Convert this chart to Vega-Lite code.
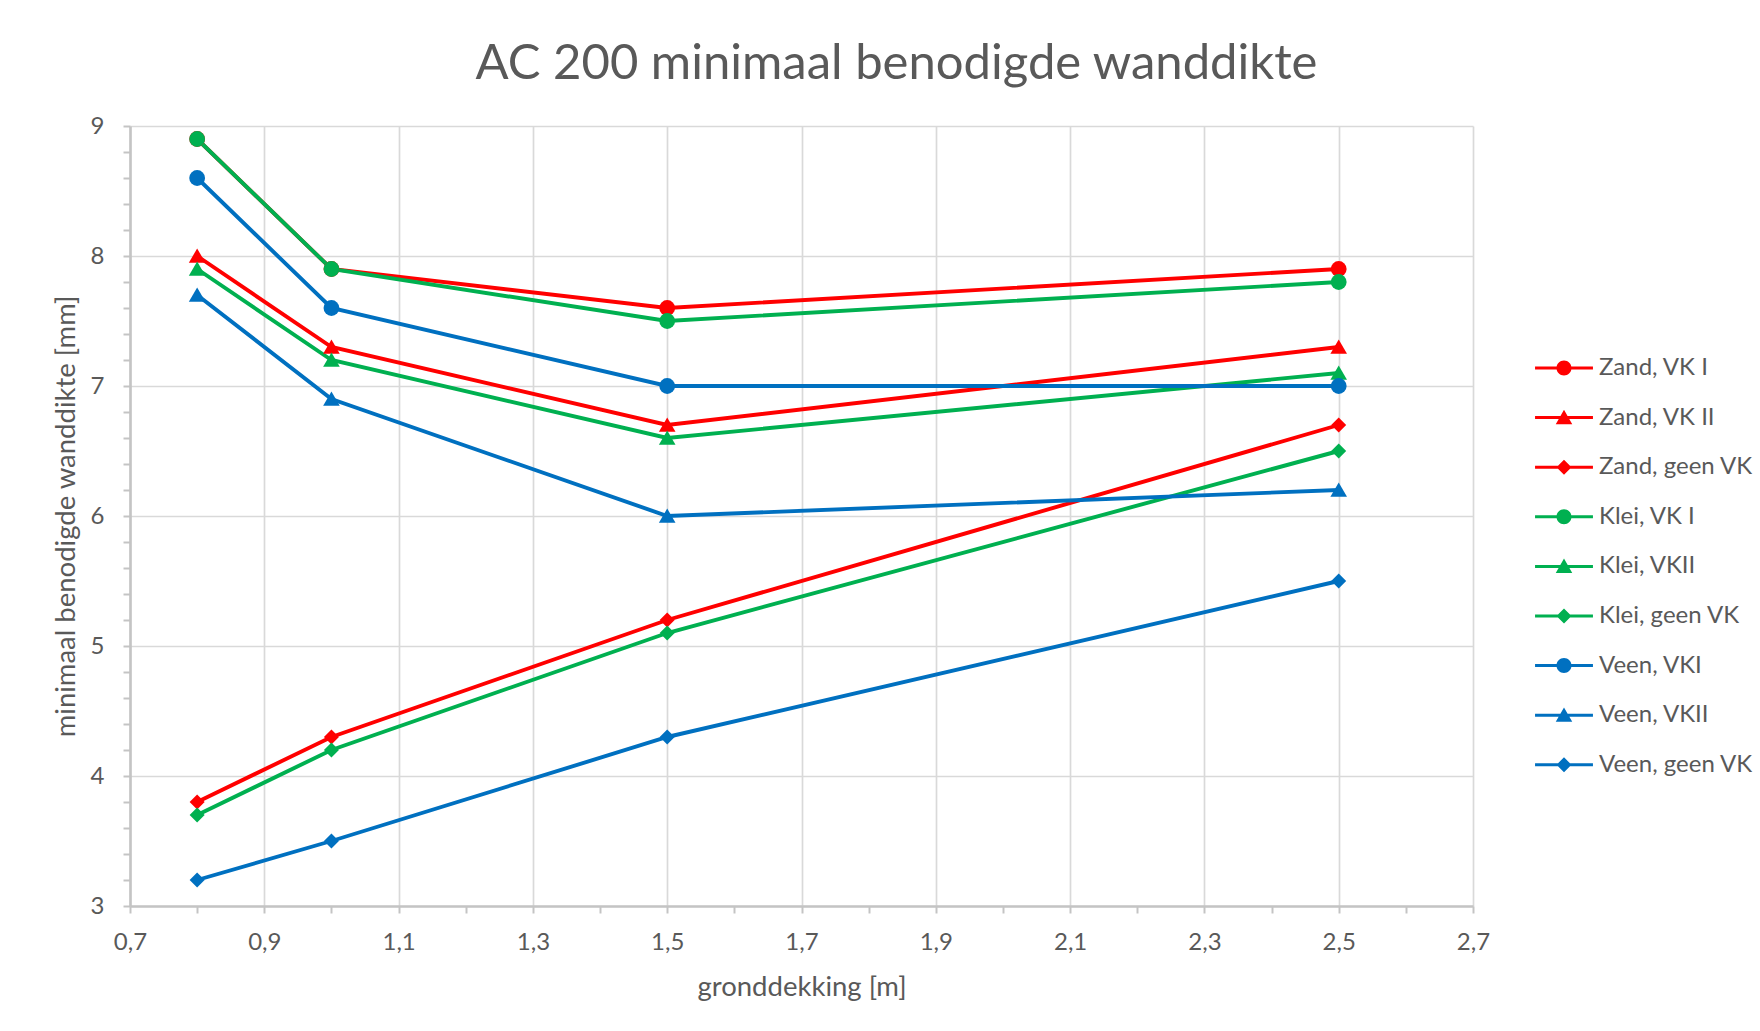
{
  "$schema": "https://vega.github.io/schema/vega-lite/v6.json",
  "autosize": "none",
  "width": 1343,
  "height": 780,
  "padding": {"left": 130, "top": 126, "right": 287, "bottom": 125},
  "background": "white",
  "config": {
    "view": {"stroke": null},
    "font": "Lato",
    "axis": {
      "labelFont": "Lato",
      "labelFontSize": 24,
      "labelColor": "#595959",
      "titleFont": "Lato",
      "titleFontSize": 27.5,
      "titleFontWeight": "normal",
      "titleColor": "#595959",
      "domainColor": "#C4C4C4",
      "domainWidth": 2.6,
      "tickColor": "#C4C4C4",
      "tickWidth": 2,
      "tickSize": 7,
      "gridColor": "#D9D9D9",
      "gridWidth": 1.7,
      "labelOverlap": false,
      "labelFlush": false,
      "labelBound": false
    },
    "legend": {
      "labelFont": "Lato",
      "labelFontSize": 24,
      "labelColor": "#595959"
    }
  },
  "title": {
    "text": "AC 200 minimaal benodigde wanddikte",
    "font": "Lato",
    "fontSize": 49,
    "fontWeight": "normal",
    "color": "#595959",
    "anchor": "middle",
    "frame": "group",
    "baseline": "alphabetic",
    "offset": 0,
    "dx": 95,
    "dy": 14
  },
  "data": {
    "values": [
      {"series": "Zand, VK I", "x": 0.8, "y": 8.9},
      {"series": "Zand, VK I", "x": 1.0, "y": 7.9},
      {"series": "Zand, VK I", "x": 1.5, "y": 7.6},
      {"series": "Zand, VK I", "x": 2.5, "y": 7.9},
      {"series": "Zand, VK II", "x": 0.8, "y": 8.0},
      {"series": "Zand, VK II", "x": 1.0, "y": 7.3},
      {"series": "Zand, VK II", "x": 1.5, "y": 6.7},
      {"series": "Zand, VK II", "x": 2.5, "y": 7.3},
      {"series": "Zand, geen VK", "x": 0.8, "y": 3.8},
      {"series": "Zand, geen VK", "x": 1.0, "y": 4.3},
      {"series": "Zand, geen VK", "x": 1.5, "y": 5.2},
      {"series": "Zand, geen VK", "x": 2.5, "y": 6.7},
      {"series": "Klei, VK I", "x": 0.8, "y": 8.9},
      {"series": "Klei, VK I", "x": 1.0, "y": 7.9},
      {"series": "Klei, VK I", "x": 1.5, "y": 7.5},
      {"series": "Klei, VK I", "x": 2.5, "y": 7.8},
      {"series": "Klei, VKII", "x": 0.8, "y": 7.9},
      {"series": "Klei, VKII", "x": 1.0, "y": 7.2},
      {"series": "Klei, VKII", "x": 1.5, "y": 6.6},
      {"series": "Klei, VKII", "x": 2.5, "y": 7.1},
      {"series": "Klei, geen VK", "x": 0.8, "y": 3.7},
      {"series": "Klei, geen VK", "x": 1.0, "y": 4.2},
      {"series": "Klei, geen VK", "x": 1.5, "y": 5.1},
      {"series": "Klei, geen VK", "x": 2.5, "y": 6.5},
      {"series": "Veen, VKI", "x": 0.8, "y": 8.6},
      {"series": "Veen, VKI", "x": 1.0, "y": 7.6},
      {"series": "Veen, VKI", "x": 1.5, "y": 7.0},
      {"series": "Veen, VKI", "x": 2.5, "y": 7.0},
      {"series": "Veen, VKII", "x": 0.8, "y": 7.7},
      {"series": "Veen, VKII", "x": 1.0, "y": 6.9},
      {"series": "Veen, VKII", "x": 1.5, "y": 6.0},
      {"series": "Veen, VKII", "x": 2.5, "y": 6.2},
      {"series": "Veen, geen VK", "x": 0.8, "y": 3.2},
      {"series": "Veen, geen VK", "x": 1.0, "y": 3.5},
      {"series": "Veen, geen VK", "x": 1.5, "y": 4.3},
      {"series": "Veen, geen VK", "x": 2.5, "y": 5.5}
    ]
  },
  "encoding": {
    "x": {
      "field": "x",
      "type": "quantitative",
      "scale": {"domain": [0.7, 2.7], "nice": false, "zero": false},
      "axis": {
        "title": "gronddekking [m]",
        "values": [0.7, 0.8, 0.9, 1.0, 1.1, 1.2, 1.3, 1.4, 1.5, 1.6, 1.7, 1.8, 1.9, 2.0, 2.1, 2.2, 2.3, 2.4, 2.5, 2.6, 2.7],
        "labelExpr": "round(datum.value*10)%2==1 ? replace(format(datum.value, '.1f'), '.', ',') : ''",
        "gridOpacity": {"condition": {"test": "round(datum.value*10)%2==1", "value": 1}, "value": 0},
        "labelPadding": 17.5,
        "titlePadding": 18.5
      }
    },
    "y": {
      "field": "y",
      "type": "quantitative",
      "scale": {"domain": [3, 9], "nice": false, "zero": false},
      "axis": {
        "title": "minimaal benodigde wanddikte [mm]",
        "values": [3, 3.2, 3.4, 3.6, 3.8, 4, 4.2, 4.4, 4.6, 4.8, 5, 5.2, 5.4, 5.6, 5.8, 6, 6.2, 6.4, 6.6, 6.8, 7, 7.2, 7.4, 7.6, 7.8, 8, 8.2, 8.4, 8.6, 8.8, 9],
        "labelExpr": "abs(datum.value-round(datum.value))<0.01 ? format(datum.value, 'd') : ''",
        "gridOpacity": {"condition": {"test": "abs(datum.value-round(datum.value))<0.01", "value": 1}, "value": 0},
        "labelPadding": 19,
        "titlePadding": 10
      }
    }
  },
  "layer": [
    {
      "encoding": {
        "color": {
          "field": "series",
          "type": "nominal",
          "scale": {
            "domain": ["Zand, VK I", "Zand, VK II", "Zand, geen VK", "Klei, VK I", "Klei, VKII", "Klei, geen VK", "Veen, VKI", "Veen, VKII", "Veen, geen VK"],
            "range": ["#FF0000", "#FF0000", "#FF0000", "#00B050", "#00B050", "#00B050", "#0070C0", "#0070C0", "#0070C0"]
          },
          "legend": null
        }
      },
      "layer": [
        {
          "mark": {"type": "line", "strokeWidth": 3.9},
          "encoding": {
            "order": {"field": "x", "type": "quantitative"}
          }
        },
        {
          "mark": {"type": "point", "filled": true, "opacity": 1, "size": 250, "strokeWidth": 0},
          "encoding": {
            "shape": {
              "field": "series",
              "type": "nominal",
              "scale": {
                "domain": ["Zand, VK I", "Zand, VK II", "Zand, geen VK", "Klei, VK I", "Klei, VKII", "Klei, geen VK", "Veen, VKI", "Veen, VKII", "Veen, geen VK"],
                "range": ["circle", "M0,-0.95L1.05,0.85L-1.05,0.85Z", "M0,-0.95L0.95,0L0,0.95L-0.95,0Z", "circle", "M0,-0.95L1.05,0.85L-1.05,0.85Z", "M0,-0.95L0.95,0L0,0.95L-0.95,0Z", "circle", "M0,-0.95L1.05,0.85L-1.05,0.85Z", "M0,-0.95L0.95,0L0,0.95L-0.95,0Z"]
              },
              "legend": null
            }
          }
        }
      ]
    },
    {
      "mark": {"type": "point", "filled": true, "opacity": 0, "size": 900, "strokeWidth": 0},
      "encoding": {
        "color": {
          "field": "series",
          "type": "nominal",
          "scale": {
            "domain": ["Zand, VK I", "Zand, VK II", "Zand, geen VK", "Klei, VK I", "Klei, VKII", "Klei, geen VK", "Veen, VKI", "Veen, VKII", "Veen, geen VK"],
            "range": ["#FF0000", "#FF0000", "#FF0000", "#00B050", "#00B050", "#00B050", "#0070C0", "#0070C0", "#0070C0"]
          },
          "legend": {
            "title": null,
            "orient": "none",
            "legendX": 1419,
            "legendY": 227,
            "padding": 0,
            "symbolSize": 900,
            "symbolStrokeWidth": 0,
            "symbolOpacity": 1,
            "labelOffset": 20,
            "rowPadding": 22.6
          }
        },
        "shape": {
          "field": "series",
          "type": "nominal",
          "scale": {
            "domain": ["Zand, VK I", "Zand, VK II", "Zand, geen VK", "Klei, VK I", "Klei, VKII", "Klei, geen VK", "Veen, VKI", "Veen, VKII", "Veen, geen VK"],
            "range": [
              "M-1.93,-0.1H1.93V0.1H-1.93ZM0.5,0A0.5,0.5 0 1,1 -0.5,0A0.5,0.5 0 1,1 0.5,0Z",
              "M-1.93,-0.1H1.93V0.1H-1.93ZM0,-0.52L0.55,0.44L-0.55,0.44Z",
              "M-1.93,-0.1H1.93V0.1H-1.93ZM0,-0.5L0.5,0L0,0.5L-0.5,0Z",
              "M-1.93,-0.1H1.93V0.1H-1.93ZM0.5,0A0.5,0.5 0 1,1 -0.5,0A0.5,0.5 0 1,1 0.5,0Z",
              "M-1.93,-0.1H1.93V0.1H-1.93ZM0,-0.52L0.55,0.44L-0.55,0.44Z",
              "M-1.93,-0.1H1.93V0.1H-1.93ZM0,-0.5L0.5,0L0,0.5L-0.5,0Z",
              "M-1.93,-0.1H1.93V0.1H-1.93ZM0.5,0A0.5,0.5 0 1,1 -0.5,0A0.5,0.5 0 1,1 0.5,0Z",
              "M-1.93,-0.1H1.93V0.1H-1.93ZM0,-0.52L0.55,0.44L-0.55,0.44Z",
              "M-1.93,-0.1H1.93V0.1H-1.93ZM0,-0.5L0.5,0L0,0.5L-0.5,0Z"
            ]
          },
          "legend": null
        }
      }
    }
  ],
  "resolve": {"scale": {"color": "independent", "shape": "independent"}}
}
